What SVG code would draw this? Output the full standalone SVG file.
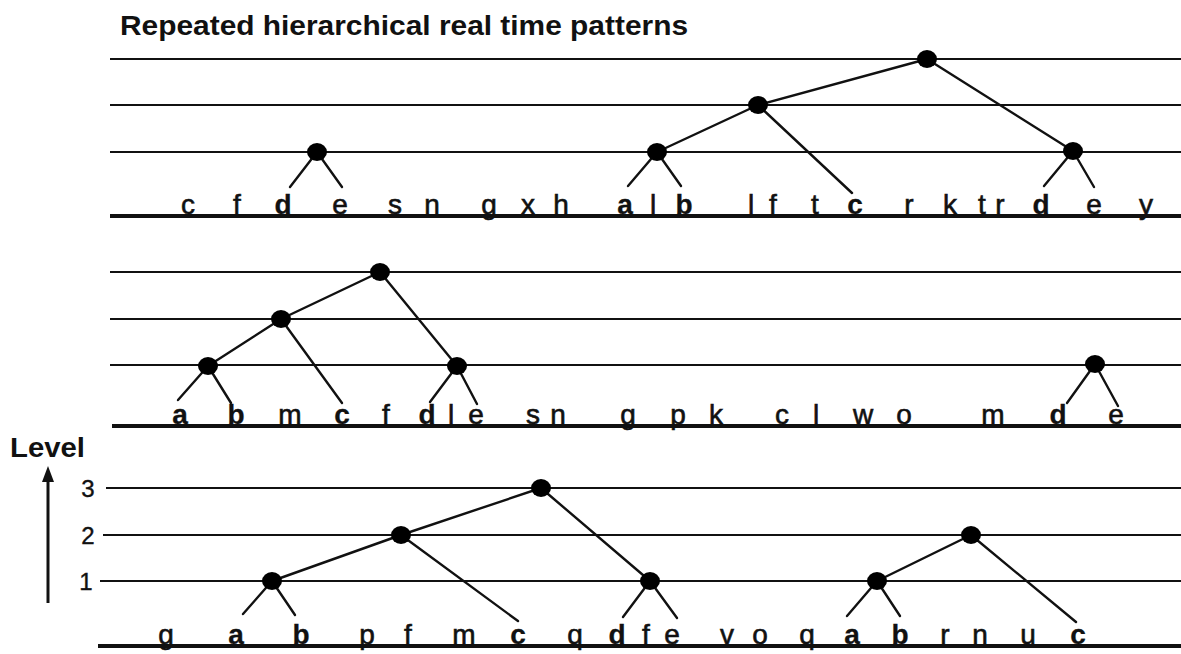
<svg xmlns="http://www.w3.org/2000/svg" width="1181" height="654" viewBox="0 0 1181 654">
<style>
.lv{stroke:#111;stroke-width:1.8;fill:none}
.base{stroke:#111;stroke-width:4;fill:none}
.edge{stroke:#111;stroke-width:2.4;fill:none;stroke-linecap:round}
.dot{fill:#000}
.t{font-family:"Liberation Sans",Arial,sans-serif;font-size:28px;fill:#111;stroke:#111;stroke-width:0.6;text-anchor:middle}
.b{font-weight:bold;stroke-width:0.3}
.title{font-family:"Liberation Sans",Arial,sans-serif;font-size:28px;font-weight:bold;fill:#111}
.num{font-family:"Liberation Sans",Arial,sans-serif;font-size:24px;fill:#111;stroke:#111;stroke-width:0.4;text-anchor:middle}
</style>
<rect width="1181" height="654" fill="#fff"/>
<text class="title" x="120" y="35" textLength="568" lengthAdjust="spacingAndGlyphs">Repeated hierarchical real time patterns</text>

<g id="levels">
<line class="lv" x1="110" y1="59" x2="1181" y2="59"/>
<line class="lv" x1="110" y1="105" x2="1181" y2="105"/>
<line class="lv" x1="110" y1="152" x2="1181" y2="152"/>
<line class="base" x1="110" y1="216" x2="1181" y2="216"/>
<line class="lv" x1="110" y1="272" x2="1181" y2="272"/>
<line class="lv" x1="110" y1="319" x2="1181" y2="319"/>
<line class="lv" x1="110" y1="365" x2="1181" y2="365"/>
<line class="base" x1="112" y1="426" x2="1181" y2="426"/>
<line class="lv" x1="106" y1="488" x2="1181" y2="488"/>
<line class="lv" x1="103" y1="535" x2="1181" y2="535"/>
<line class="lv" x1="100" y1="581" x2="1181" y2="581"/>
<line class="base" x1="98" y1="646" x2="1181" y2="646"/>
</g>

<g id="axis">
<text class="title" x="10" y="457" textLength="75" lengthAdjust="spacingAndGlyphs">Level</text>
<line x1="48" y1="603" x2="48" y2="478" stroke="#111" stroke-width="3"/>
<polygon points="48,466 42,482 54,482" fill="#111"/>
<text class="num" x="88" y="497">3</text>
<text class="num" x="88" y="544">2</text>
<text class="num" x="86" y="590">1</text>
</g>

<g id="connectors">
<line class="edge" x1="317" y1="152" x2="290" y2="187"/>
<line class="edge" x1="317" y1="152" x2="342" y2="187"/>
<line class="edge" x1="657" y1="152" x2="628" y2="186"/>
<line class="edge" x1="657" y1="152" x2="681" y2="186"/>
<line class="edge" x1="758" y1="105" x2="657" y2="152"/>
<line class="edge" x1="758" y1="105" x2="852" y2="193"/>
<line class="edge" x1="927" y1="59" x2="758" y2="105"/>
<line class="edge" x1="927" y1="59" x2="1073" y2="151"/>
<line class="edge" x1="1073" y1="151" x2="1044" y2="186"/>
<line class="edge" x1="1073" y1="151" x2="1094" y2="187"/>

<line class="edge" x1="380" y1="272" x2="281" y2="319"/>
<line class="edge" x1="380" y1="272" x2="457" y2="366"/>
<line class="edge" x1="281" y1="319" x2="208" y2="366"/>
<line class="edge" x1="281" y1="319" x2="342" y2="403"/>
<line class="edge" x1="208" y1="366" x2="178" y2="400"/>
<line class="edge" x1="208" y1="366" x2="231" y2="403"/>
<line class="edge" x1="457" y1="366" x2="430" y2="402"/>
<line class="edge" x1="457" y1="366" x2="477" y2="404"/>
<line class="edge" x1="1095" y1="364" x2="1067" y2="403"/>
<line class="edge" x1="1095" y1="364" x2="1118" y2="406"/>

<line class="edge" x1="541" y1="488" x2="401" y2="535"/>
<line class="edge" x1="541" y1="488" x2="650" y2="581"/>
<line class="edge" x1="401" y1="535" x2="272" y2="581"/>
<line class="edge" x1="401" y1="535" x2="518" y2="621"/>
<line class="edge" x1="272" y1="581" x2="243" y2="614"/>
<line class="edge" x1="272" y1="581" x2="295" y2="615"/>
<line class="edge" x1="650" y1="581" x2="623" y2="617"/>
<line class="edge" x1="650" y1="581" x2="677" y2="618"/>
<line class="edge" x1="971" y1="535" x2="877" y2="581"/>
<line class="edge" x1="971" y1="535" x2="1076" y2="622"/>
<line class="edge" x1="877" y1="581" x2="847" y2="616"/>
<line class="edge" x1="877" y1="581" x2="900" y2="616"/>
</g>

<g id="node-p1-de"><ellipse class="dot" cx="317" cy="152" rx="10" ry="9"/></g>
<g id="node-p1-ab"><ellipse class="dot" cx="657" cy="152" rx="10" ry="9"/></g>
<g id="node-p1-abc"><ellipse class="dot" cx="758" cy="105" rx="10" ry="9"/></g>
<g id="node-p1-top"><ellipse class="dot" cx="927" cy="59" rx="10" ry="9"/></g>
<g id="node-p1-de2"><ellipse class="dot" cx="1073" cy="151" rx="10" ry="9"/></g>

<g id="node-p2-top"><ellipse class="dot" cx="380" cy="272" rx="10" ry="9"/></g>
<g id="node-p2-abc"><ellipse class="dot" cx="281" cy="319" rx="10" ry="9"/></g>
<g id="node-p2-ab"><ellipse class="dot" cx="208" cy="366" rx="10" ry="9"/></g>
<g id="node-p2-de"><ellipse class="dot" cx="457" cy="366" rx="10" ry="9"/></g>
<g id="node-p2-de2"><ellipse class="dot" cx="1095" cy="364" rx="10" ry="9"/></g>

<g id="node-p3-top"><ellipse class="dot" cx="541" cy="488" rx="10" ry="9"/></g>
<g id="node-p3-abc"><ellipse class="dot" cx="401" cy="535" rx="10" ry="9"/></g>
<g id="node-p3-ab"><ellipse class="dot" cx="272" cy="581" rx="10" ry="9"/></g>
<g id="node-p3-de"><ellipse class="dot" cx="650" cy="581" rx="10" ry="9"/></g>
<g id="node-p3-abc2"><ellipse class="dot" cx="971" cy="535" rx="10" ry="9"/></g>
<g id="node-p3-ab2"><ellipse class="dot" cx="877" cy="581" rx="10" ry="9"/></g>

<g id="row1">
<text class="t" x="188" y="214">c</text>
<text class="t" x="237" y="214">f</text>
<text class="t b" x="283" y="214">d</text>
<text class="t" x="340" y="214">e</text>
<text class="t" x="395" y="214">s</text>
<text class="t" x="432" y="214">n</text>
<text class="t" x="489" y="214">g</text>
<text class="t" x="528" y="214">x</text>
<text class="t" x="561" y="214">h</text>
<text class="t b" x="625" y="214">a</text>
<text class="t" x="653" y="214">l</text>
<text class="t b" x="684" y="214">b</text>
<text class="t" x="751" y="214">l</text>
<text class="t" x="773" y="214">f</text>
<text class="t" x="815" y="214">t</text>
<text class="t b" x="855" y="214">c</text>
<text class="t" x="909" y="214">r</text>
<text class="t" x="950" y="214">k</text>
<text class="t" x="982" y="214">t</text>
<text class="t" x="1000" y="214">r</text>
<text class="t b" x="1041" y="214">d</text>
<text class="t" x="1094" y="214">e</text>
<text class="t" x="1146" y="214">y</text>
</g>

<g id="row2">
<text class="t b" x="180" y="424">a</text>
<text class="t b" x="236" y="424">b</text>
<text class="t" x="290" y="424">m</text>
<text class="t b" x="342" y="424">c</text>
<text class="t" x="386" y="424">f</text>
<text class="t b" x="427" y="424">d</text>
<text class="t" x="451" y="424">l</text>
<text class="t" x="476" y="424">e</text>
<text class="t" x="533" y="424">s</text>
<text class="t" x="558" y="424">n</text>
<text class="t" x="628" y="424">g</text>
<text class="t" x="678" y="424">p</text>
<text class="t" x="716" y="424">k</text>
<text class="t" x="782" y="424">c</text>
<text class="t" x="816" y="424">l</text>
<text class="t" x="863" y="424">w</text>
<text class="t" x="904" y="424">o</text>
<text class="t" x="993" y="424">m</text>
<text class="t b" x="1058" y="424">d</text>
<text class="t" x="1116" y="424">e</text>
</g>

<g id="row3">
<text class="t" x="166" y="644">g</text>
<text class="t b" x="236" y="644">a</text>
<text class="t b" x="301" y="644">b</text>
<text class="t" x="367" y="644">p</text>
<text class="t" x="408" y="644">f</text>
<text class="t" x="464" y="644">m</text>
<text class="t b" x="518" y="644">c</text>
<text class="t" x="575" y="644">q</text>
<text class="t b" x="617" y="644">d</text>
<text class="t" x="646" y="644">f</text>
<text class="t" x="672" y="644">e</text>
<text class="t" x="727" y="644">v</text>
<text class="t" x="760" y="644">o</text>
<text class="t" x="807" y="644">q</text>
<text class="t b" x="852" y="644">a</text>
<text class="t b" x="900" y="644">b</text>
<text class="t" x="945" y="644">r</text>
<text class="t" x="980" y="644">n</text>
<text class="t" x="1028" y="644">u</text>
<text class="t b" x="1078" y="644">c</text>
</g>
</svg>
